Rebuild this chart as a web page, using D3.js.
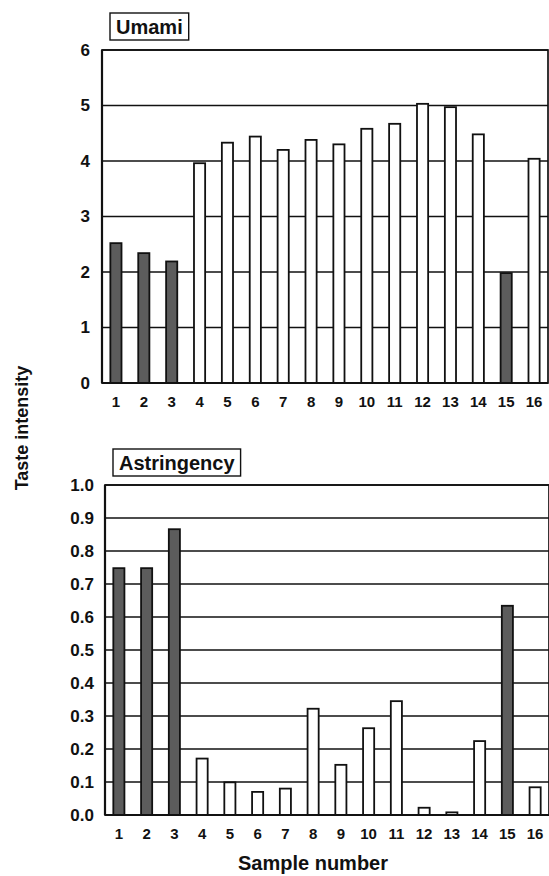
<!DOCTYPE html>
<html><head><meta charset="utf-8">
<script src="https://cdn.jsdelivr.net/npm/d3@7"></script>
<style>body{margin:0;background:#fff}svg{display:block}text{font-family:"Liberation Sans",Arial,sans-serif;fill:#111}</style>
</head><body><svg id="c" width="549" height="876"></svg>
<script>
const samples = ["1","2","3","4","5","6","7","8","9","10","11","12","13","14","15","16"];
const umami = [2.52,2.34,2.19,3.96,4.33,4.44,4.20,4.38,4.30,4.58,4.67,5.03,4.97,4.48,1.98,4.04];
const astringency = [0.748,0.748,0.866,0.171,0.099,0.07,0.08,0.322,0.152,0.263,0.345,0.022,0.008,0.224,0.634,0.084];
const darkSamples = ["1","2","3","15"];
const umamiTicks = [0,1,2,3,4,5,6];
const astrTicks = [0,0.1,0.2,0.3,0.4,0.5,0.6,0.7,0.8,0.9,1.0];

const svg = d3.select("#c");

function panel(cfg){
  const g = svg.append("g");
  const x = d3.scaleBand().domain(samples).range([cfg.left, cfg.right]).paddingInner(0.6).paddingOuter(0.3);
  const y = d3.scaleLinear().domain(cfg.domain).range([cfg.bottom, cfg.top]);
  g.selectAll("line.grid").data(cfg.ticks).join("line")
    .attr("x1", cfg.left).attr("x2", cfg.right)
    .attr("y1", d=>y(d)).attr("y2", d=>y(d))
    .attr("stroke","#111").attr("stroke-width",1.7);
  g.selectAll("rect.bar").data(cfg.values).join("rect")
    .attr("x",(d,i)=>x(samples[i])).attr("width",x.bandwidth())
    .attr("y",d=>y(d)).attr("height",d=>y(0)-y(d))
    .attr("fill",(d,i)=>darkSamples.includes(samples[i])?"#5c5c5c":"#fff")
    .attr("stroke","#111").attr("stroke-width",1.8);
  g.append("rect").attr("x",cfg.left).attr("y",cfg.top).attr("width",cfg.right-cfg.left).attr("height",cfg.bottom-cfg.top)
    .attr("fill","none").attr("stroke","#111").attr("stroke-width",1.7);
  g.append("line").attr("x1",cfg.left).attr("x2",cfg.left).attr("y1",cfg.top).attr("y2",cfg.bottom).attr("stroke","#111").attr("stroke-width",2.2);
  g.append("line").attr("x1",cfg.left).attr("x2",cfg.right).attr("y1",cfg.bottom).attr("y2",cfg.bottom).attr("stroke","#111").attr("stroke-width",2.2);
  const ya = d3.axisLeft(y).tickValues(cfg.ticks).tickFormat(cfg.fmt).tickSize(0).tickPadding(cfg.pad);
  const yg = g.append("g").attr("transform",`translate(${cfg.left},0)`).call(ya);
  yg.select(".domain").remove();
  yg.selectAll("text").attr("font-size",17).attr("font-weight","bold").style("font-family","Liberation Sans, Arial, sans-serif");
  const xa = d3.axisBottom(x).tickSize(0).tickPadding(cfg.xpad);
  const xg = g.append("g").attr("transform",`translate(0,${cfg.bottom})`).call(xa);
  xg.select(".domain").remove();
  xg.selectAll("text").attr("font-size",15).attr("font-weight","bold").style("font-family","Liberation Sans, Arial, sans-serif");
  const box = g.append("rect").attr("x",cfg.bx).attr("y",cfg.by).attr("height",27)
    .attr("fill","#fff").attr("stroke","#111").attr("stroke-width",1.4);
  const t = g.append("text").attr("x",cfg.bx+6).attr("y",cfg.by+21).attr("font-size",20).attr("font-weight","bold").text(cfg.title);
  box.attr("width", t.node().getComputedTextLength()+12);
}

panel({left:102,right:548,top:50,bottom:383,domain:[0,6],ticks:umamiTicks,values:umami,fmt:d3.format("d"),pad:12,xpad:13,title:"Umami",bx:110,by:13});
panel({left:105,right:549,top:485,bottom:815,domain:[0,1],ticks:astrTicks,values:astringency,fmt:d3.format(".1f"),pad:11,xpad:13,title:"Astringency",bx:113,by:449});

svg.append("text").attr("transform","translate(28,428) rotate(-90)").attr("text-anchor","middle")
  .attr("font-size",18).attr("font-weight","bold").text("Taste intensity");
svg.append("text").attr("x",313).attr("y",870).attr("text-anchor","middle")
  .attr("font-size",20).attr("font-weight","bold").text("Sample number");
</script></body></html>
